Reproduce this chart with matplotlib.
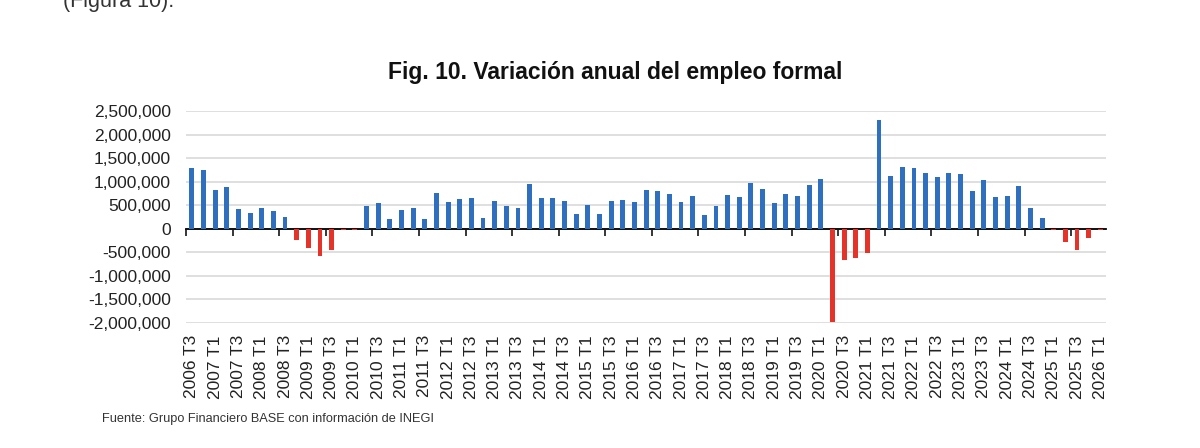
import numpy as np
import matplotlib
matplotlib.use('Agg')
import matplotlib.pyplot as plt
from matplotlib.ticker import FuncFormatter, MultipleLocator

#-------------------------------------------------------------------------------
#DATA

#quarters from 2006 T3 to 2026 T1
years = [2006]*2 + [y for y in range(2007, 2026) for _ in range(4)] + [2026]
quarters = [3, 4] + [1, 2, 3, 4]*19 + [1]
labels = ['%d T%d' % (y, q) for y, q in zip(years, quarters)]

#annual change in formal employment
empleo = [
    1290000, 1255000, 823000, 880000, 418000, 333000, 440000, 369000,
    241000, -248000, -404000, -574000, -447000, -35000, -35000, 489000,
    546000, 199000, 404000, 433000, 199000, 752000, 560000, 631000,
    660000, 220000, 589000, 482000, 433000, 957000, 645000, 652000,
    582000, 305000, 496000, 319000, 589000, 610000, 567000, 816000,
    801000, 738000, 574000, 688000, 291000, 475000, 709000, 667000,
    972000, 844000, 546000, 745000, 688000, 929000, 1057000, -1990000,
    -660000, -631000, -511000, 2305000, 1121000, 1319000, 1291000, 1191000,
    1099000, 1184000, 1170000, 809000, 1035000, 667000, 695000, 901000,
    447000, 227000, -30000, -284000, -461000, -191000, -35000,
]

titulo = 'Fig. 10. Variación anual del empleo formal'
fuente = 'Fuente: Grupo Financiero BASE con información de INEGI'

#-------------------------------------------------------------------------------
#PLOT

plt.rcParams['font.family'] = ['Liberation Sans', 'DejaVu Sans']

azul = '#2e6fc0'
rojo = '#e5332a'
txt = '#222222'

x = np.arange(len(empleo))
vals = np.array(empleo)
colores = [azul if v >= 0 else rojo for v in vals]

fig = plt.figure(figsize=(12, 4.48), dpi=100)
ax = fig.add_axes([0.155, 0.2797, 0.7668, 0.4725])

ax.bar(x, vals, width=0.42, color=colores, zorder=3)

ax.set_xlim(-0.5, len(empleo) - 0.5)
ax.set_ylim(-2000000, 2500000)
ax.yaxis.set_major_locator(MultipleLocator(500000))
ax.yaxis.set_major_formatter(FuncFormatter(lambda v, p: '{:,.0f}'.format(v)))
ax.grid(axis='y', color='#d9d9d9', linewidth=1.2, zorder=0)
ax.tick_params(axis='y', length=0, pad=11, labelsize=12.5, labelcolor=txt)

for s in ['top', 'right', 'left']:
    ax.spines[s].set_visible(False)

#zero line with category tick marks every 4 quarters
ax.spines['bottom'].set_position(('data', 0))
ax.spines['bottom'].set_color('black')
ax.spines['bottom'].set_linewidth(1.3)
ax.spines['bottom'].set_zorder(2)
ax.set_xticks(np.arange(-0.5, len(empleo), 4))
ax.tick_params(axis='x', direction='out', length=5, width=1.1,
               labelbottom=False, color='black')

#labels every other quarter at the bottom
sec = ax.secondary_xaxis('bottom')
sec.set_xticks(x[::2])
sec.set_xticklabels(labels[::2], rotation=90)
sec.tick_params(length=0, pad=9, labelsize=12.5, labelcolor=txt)
sec.spines['bottom'].set_visible(False)

fig.text(0.5125, 1 - 73/448, titulo, ha='center', va='center',
         fontsize=16.5, fontweight='bold', color='#111111')
fig.text(102/1200, 1 - 419/448, fuente, ha='left', va='center',
         fontsize=9.2, color='#333333')
fig.text(63/1200, 1 - 1/448, '(Figura 10).', ha='left', va='center',
         fontsize=15.5, color='#333333')

fig.savefig('out.png', dpi=100)
